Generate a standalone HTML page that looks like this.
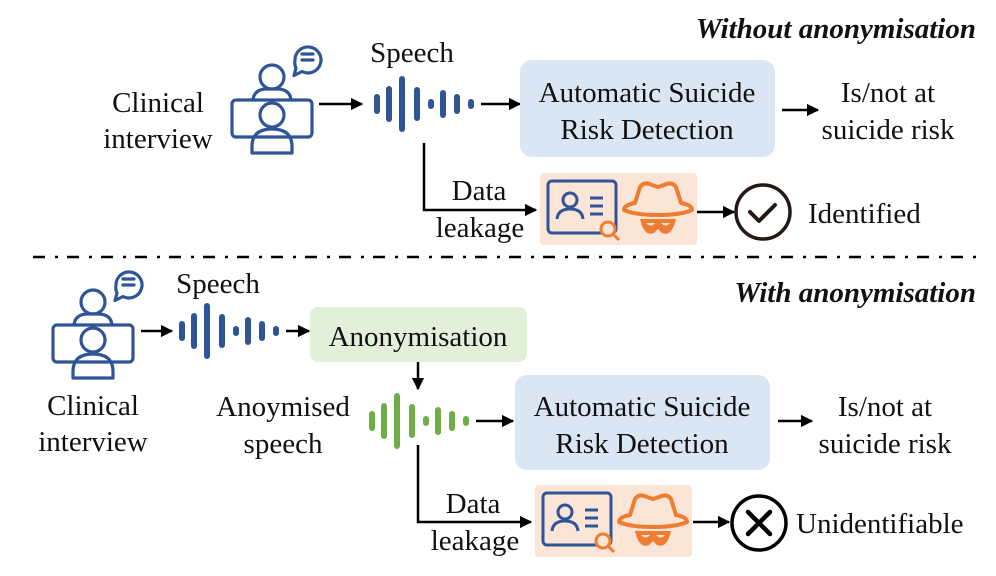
<!DOCTYPE html>
<html><head><meta charset="utf-8"><style>
html,body{margin:0;padding:0;background:#fff}
svg{display:block}
text{font-family:"Liberation Serif","Times New Roman",serif;font-size:29px;fill:#111}
</style></head><body>
<svg width="996" height="576" viewBox="0 0 996 576" xmlns="http://www.w3.org/2000/svg">
<defs>
<marker id="ah" viewBox="0 0 10 10" refX="9" refY="5" markerWidth="5" markerHeight="5" orient="auto" markerUnits="strokeWidth"><path d="M0,0 L10,5 L0,10 z" fill="#000"/></marker>
<g id="icon" fill="none" stroke="#2f5597" stroke-width="3.2" stroke-linejoin="round">
  <circle cx="40" cy="-23" r="12"/>
  <path d="M21,0 Q22,-10 33,-11 L47,-11 Q58,-10 59,0"/>
  <rect x="0" y="0" width="80" height="37" rx="4"/>
  <circle cx="40" cy="15" r="12"/>
  <path d="M20,53 V45 Q21,29 40,29 Q59,29 60,45 V53 Z"/>
  <path d="M63,-40 a13,13 0 1,1 7,11.5 l-8,4 l2,-7.5 a13,13 0 0,1 -1,-8 z"/>
  <path d="M70,-46 h11 M70,-40 h11" stroke-linecap="round"/>
</g>
<g id="wave" stroke-linecap="round" stroke-width="6">
  <line x1="0" y1="-7" x2="0" y2="7"/><line x1="12" y1="-15" x2="12" y2="15"/>
  <line x1="25" y1="-25" x2="25" y2="25"/><line x1="40" y1="-14" x2="40" y2="14"/>
  <line x1="54" y1="-2" x2="54" y2="2"/><line x1="66" y1="-11" x2="66" y2="11"/>
  <line x1="80" y1="-7" x2="80" y2="7"/><line x1="94" y1="-2" x2="94" y2="2"/>
</g>
<g id="leak">
  <rect x="0" y="0" width="157" height="72" rx="4" fill="#fbe5d6"/>
  <rect x="8" y="8" width="68" height="52" rx="4" fill="none" stroke="#2f5597" stroke-width="3"/>
  <circle cx="30" cy="27" r="7" fill="none" stroke="#2f5597" stroke-width="3"/>
  <path d="M17,46 Q18,36 30,36 Q42,36 43,46" fill="none" stroke="#2f5597" stroke-width="3"/>
  <path d="M50,25 h13 M50,33 h13 M50,41 h13" stroke="#2f5597" stroke-width="3"/>
  <circle cx="68" cy="56" r="7" fill="#fbe5d6" stroke="#ed7d31" stroke-width="3"/>
  <path d="M73,61 l6,6" stroke="#ed7d31" stroke-width="3"/>
  <path d="M95,30 Q84,32 84,37 Q95,42 118,42 Q141,42 152,37 Q152,32 141,30 L136,14 Q132,8 124,12 L118,14 L112,12 Q104,8 100,14 Z" fill="none" stroke="#ed7d31" stroke-width="4" stroke-linejoin="round"/>
  <path d="M100,46 Q104,64 114,60 L118,56 L122,60 Q132,64 136,46 Z" fill="#ed7d31"/>
  <path d="M106,50 q5,5 9,0 z M121,50 q5,5 9,0 z" fill="#fbe5d6"/>
</g>
</defs>

<!-- top -->
<text x="976" y="38" text-anchor="end" font-weight="bold" font-style="italic">Without anonymisation</text>
<use href="#icon" x="232" y="100"/>
<text x="158" y="112" text-anchor="middle">Clinical</text>
<text x="158" y="148" text-anchor="middle">interview</text>
<text x="412" y="62" text-anchor="middle">Speech</text>
<line x1="319" y1="104" x2="362" y2="104" stroke="#000" stroke-width="2.5" marker-end="url(#ah)"/>
<use href="#wave" x="377" y="104" stroke="#2f5597"/>
<line x1="481" y1="104" x2="520" y2="104" stroke="#000" stroke-width="2.5" marker-end="url(#ah)"/>
<rect x="520" y="60" width="255" height="97" rx="12" fill="#dae6f3"/>
<text x="647" y="102" text-anchor="middle">Automatic Suicide</text>
<text x="647" y="139" text-anchor="middle">Risk Detection</text>
<line x1="782" y1="110" x2="818" y2="110" stroke="#000" stroke-width="2.5" marker-end="url(#ah)"/>
<text x="888" y="102" text-anchor="middle">Is/not at</text>
<text x="888" y="139" text-anchor="middle">suicide risk</text>
<path d="M424,143 V210 H536" fill="none" stroke="#000" stroke-width="2.5" marker-end="url(#ah)"/>
<text x="479" y="200" text-anchor="middle">Data</text>
<text x="480" y="237" text-anchor="middle">leakage</text>
<use href="#leak" x="540" y="173"/>
<line x1="697" y1="212" x2="734" y2="212" stroke="#000" stroke-width="2.5" marker-end="url(#ah)"/>
<circle cx="763" cy="212" r="27" fill="none" stroke="#231815" stroke-width="3.5"/>
<path d="M750,212 l9,9 l16,-16" fill="none" stroke="#231815" stroke-width="4" stroke-linecap="round" stroke-linejoin="round"/>
<text x="808" y="223">Identified</text>

<line x1="33" y1="257" x2="980" y2="257" stroke="#000" stroke-width="2.5" stroke-dasharray="12 10 3 9"/>

<!-- bottom -->
<text x="976" y="302" text-anchor="end" font-weight="bold" font-style="italic">With anonymisation</text>
<use href="#icon" x="53" y="325"/>
<text x="93" y="415" text-anchor="middle">Clinical</text>
<text x="93" y="451" text-anchor="middle">interview</text>
<text x="218" y="293" text-anchor="middle">Speech</text>
<line x1="141" y1="331" x2="172" y2="331" stroke="#000" stroke-width="2.5" marker-end="url(#ah)"/>
<use href="#wave" x="182" y="331" stroke="#2f5597"/>
<line x1="286" y1="331" x2="309" y2="331" stroke="#000" stroke-width="2.5" marker-end="url(#ah)"/>
<rect x="310" y="307" width="217" height="55" rx="8" fill="#e2f0d9"/>
<text x="418" y="346" text-anchor="middle">Anonymisation</text>
<line x1="418" y1="362" x2="418" y2="389" stroke="#000" stroke-width="2.5" marker-end="url(#ah)"/>
<text x="283" y="416" text-anchor="middle">Anoymised</text>
<text x="283" y="453" text-anchor="middle">speech</text>
<use href="#wave" x="372" y="421" stroke="#70ad47"/>
<line x1="476" y1="421" x2="513" y2="421" stroke="#000" stroke-width="2.5" marker-end="url(#ah)"/>
<rect x="515" y="375" width="255" height="95" rx="12" fill="#dae6f3"/>
<text x="642" y="416" text-anchor="middle">Automatic Suicide</text>
<text x="642" y="453" text-anchor="middle">Risk Detection</text>
<line x1="778" y1="421" x2="812" y2="421" stroke="#000" stroke-width="2.5" marker-end="url(#ah)"/>
<text x="885" y="416" text-anchor="middle">Is/not at</text>
<text x="885" y="453" text-anchor="middle">suicide risk</text>
<path d="M418,445 V522 H531" fill="none" stroke="#000" stroke-width="2.5" marker-end="url(#ah)"/>
<text x="473" y="513" text-anchor="middle">Data</text>
<text x="475" y="550" text-anchor="middle">leakage</text>
<use href="#leak" x="535" y="485"/>
<line x1="693" y1="522" x2="729" y2="522" stroke="#000" stroke-width="2.5" marker-end="url(#ah)"/>
<circle cx="759" cy="523" r="27" fill="none" stroke="#000" stroke-width="3.5"/>
<path d="M748,512 l22,22 M770,512 l-22,22" stroke="#000" stroke-width="4.5" stroke-linecap="round"/>
<text x="796" y="533">Unidentifiable</text>
</svg>
</body></html>
